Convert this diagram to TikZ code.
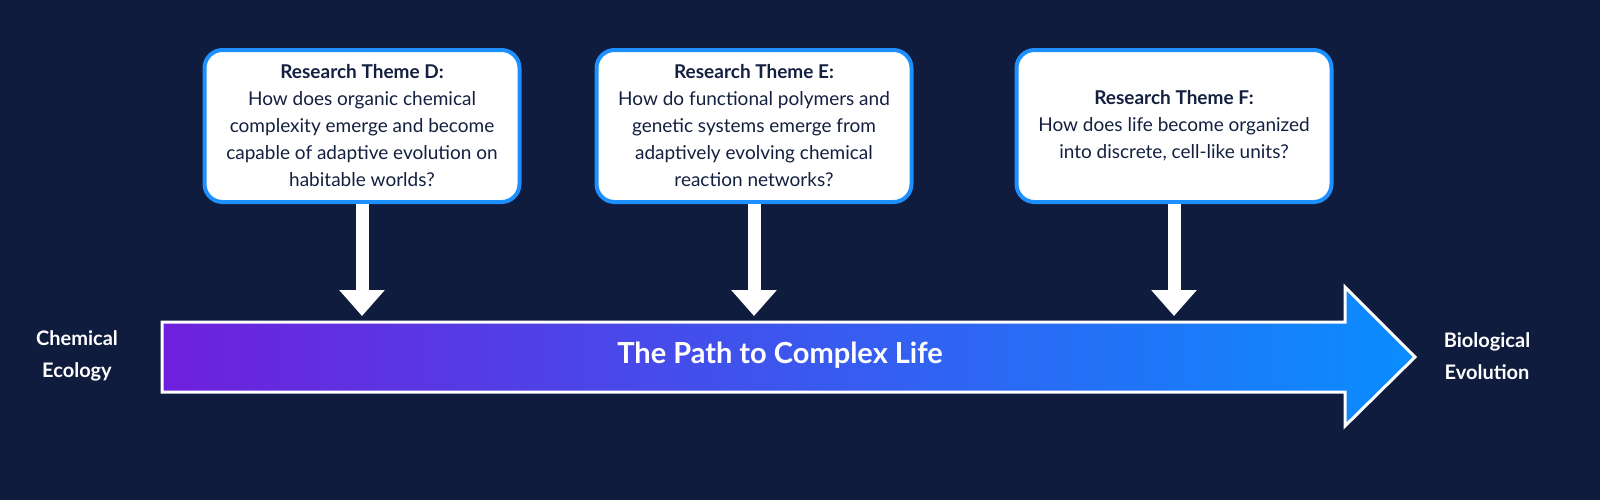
\documentclass[tikz,border=0pt]{standalone}
\usepackage{fontspec}
\setmainfont{Lato}
\definecolor{bg}{HTML}{101C3E}
\definecolor{bord}{HTML}{1E8FFF}
\definecolor{txt}{HTML}{142040}
\definecolor{gA}{HTML}{6E20DC}
\definecolor{gB}{HTML}{0A8DFF}
\begin{document}
\begin{tikzpicture}[x=0.5pt,y=-0.5pt,
  box/.style={draw=bord,line width=2pt,fill=white,rounded corners=9pt,minimum width=157.5pt,minimum height=76pt,align=center,text=txt,font=\fontsize{9.5}{13.5}\selectfont,inner sep=2pt},
  down/.style={draw=white,line width=6.5pt,-{Triangle[width=22pt,length=13pt]}},
  side/.style={text=white,font=\bfseries\fontsize{10}{16}\selectfont,align=center}]
\usetikzlibrary{arrows.meta}
\fill[bg] (0,0) rectangle (1600,500);
\node[box] (d) at (362,126) {\textbf{Research Theme D:}\\How does organic chemical\\complexity emerge and become\\capable of adaptive evolution on\\habitable worlds?};
\node[box] (e) at (754,126) {\textbf{Research Theme E:}\\How do functional polymers and\\genetic systems emerge from\\adaptively evolving chemical\\reaction networks?};
\node[box] (f) at (1174,126) {\textbf{Research Theme F:}\\How does life become organized\\into discrete, cell-like units?};
\coordinate (dt) at (362,316);
\coordinate (et) at (754,316);
\coordinate (ft) at (1174,316);
\draw[down] (d.south) -- (dt);
\draw[down] (e.south) -- (et);
\draw[down] (f.south) -- (ft);
\shade[left color=gA,right color=gB] (162,322) -- (1345,322) -- (1345,287) -- (1415,357) -- (1345,426) -- (1345,392) -- (162,392) -- cycle;
\draw[white,line width=1.5pt,line join=miter] (162,322) -- (1345,322) -- (1345,287) -- (1415,357) -- (1345,426) -- (1345,392) -- (162,392) -- cycle;
\node[text=white,font=\bfseries\fontsize{14.5}{16}\selectfont] (p) at (780,355) {The Path to Complex Life};
\node[side] (l) at (77,356) {Chemical\\Ecology};
\node[side] (r) at (1487,356) {Biological\\Evolution};
\end{tikzpicture}
\end{document}
